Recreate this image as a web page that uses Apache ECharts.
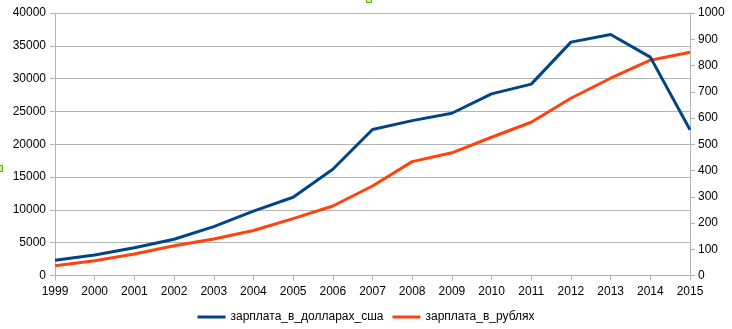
<!DOCTYPE html>
<html><head><meta charset="utf-8">
<script src="https://cdn.jsdelivr.net/npm/echarts@6/dist/echarts.min.js"></script>
<style>html,body{margin:0;padding:0;background:#fff}#c{width:732px;height:329px}</style>
</head><body><div id="c"></div>
<script>
const years = ['1999','2000','2001','2002','2003','2004','2005','2006','2007','2008','2009','2010','2011','2012','2013','2014','2015'];
const usdSalary = [58, 78, 106, 138, 186, 245, 298, 405, 556, 590, 618, 692, 729, 889, 918, 832, 555];
const rubSalary = [1494, 2256, 3277, 4543, 5564, 6850, 8659, 10595, 13643, 17348, 18700, 21067, 23354, 27012, 30061, 32805, 34024];
const seriesNames = ['зарплата_в_долларах_сша', 'зарплата_в_рублях'];

const gray = '#b3b3b3';
const font = 'Liberation Sans, Arial, sans-serif';
const chart = echarts.init(document.getElementById('c'), null, {renderer: 'canvas'});
chart.setOption({
  animation: false,
  backgroundColor: '#fff',
  grid: {left: 55, right: 42, top: 13, bottom: 53.5, containLabel: false},
  legend: {
    top: 306, left: 'center', itemWidth: 28, itemHeight: 3, itemGap: 9,
    icon: 'rect',
    textStyle: {fontFamily: font, fontSize: 12, color: '#000'},
    data: seriesNames
  },
  xAxis: {
    type: 'category', data: years, boundaryGap: false,
    axisLine: {lineStyle: {color: gray, width: 1}},
    axisTick: {show: true, length: 5, lineStyle: {color: gray}, alignWithLabel: true},
    axisLabel: {fontFamily: font, fontSize: 12, color: '#000', margin: 10, interval: 0},
    splitLine: {show: false}
  },
  yAxis: [{
    type: 'value', min: 0, max: 40000, interval: 5000, position: 'left',
    axisLine: {show: true, lineStyle: {color: gray}},
    axisTick: {show: true, length: 5, lineStyle: {color: gray}},
    axisLabel: {fontFamily: font, fontSize: 12, color: '#000', margin: 9, formatter: v => String(v)},
    splitLine: {show: true, lineStyle: {color: gray, width: 1}}
  }, {
    type: 'value', min: 0, max: 1000, interval: 100, position: 'right',
    axisLine: {show: true, lineStyle: {color: gray}},
    axisTick: {show: true, length: 5, lineStyle: {color: gray}},
    axisLabel: {fontFamily: font, fontSize: 12, color: '#000', margin: 8, formatter: v => String(v)},
    splitLine: {show: false}
  }],
  series: [{
    name: seriesNames[0], type: 'line', yAxisIndex: 1, data: usdSalary,
    showSymbol: false, symbol: 'none', color: '#004586',
    lineStyle: {color: '#004586', width: 3}, z: 3
  }, {
    name: seriesNames[1], type: 'line', yAxisIndex: 0, data: rubSalary,
    showSymbol: false, symbol: 'none', color: '#ff420e',
    lineStyle: {color: '#ff420e', width: 3}, z: 2
  }],
  graphic: [
    {type: 'rect', shape: {x: 366.5, y: -2.5, width: 5, height: 5}, style: {fill: '#c8f0a0', stroke: '#58b000', lineWidth: 1}},
    {type: 'rect', shape: {x: -2.5, y: 165.5, width: 5, height: 6}, style: {fill: '#c8f0a0', stroke: '#58b000', lineWidth: 1}}
  ]
});
</script></body></html>
